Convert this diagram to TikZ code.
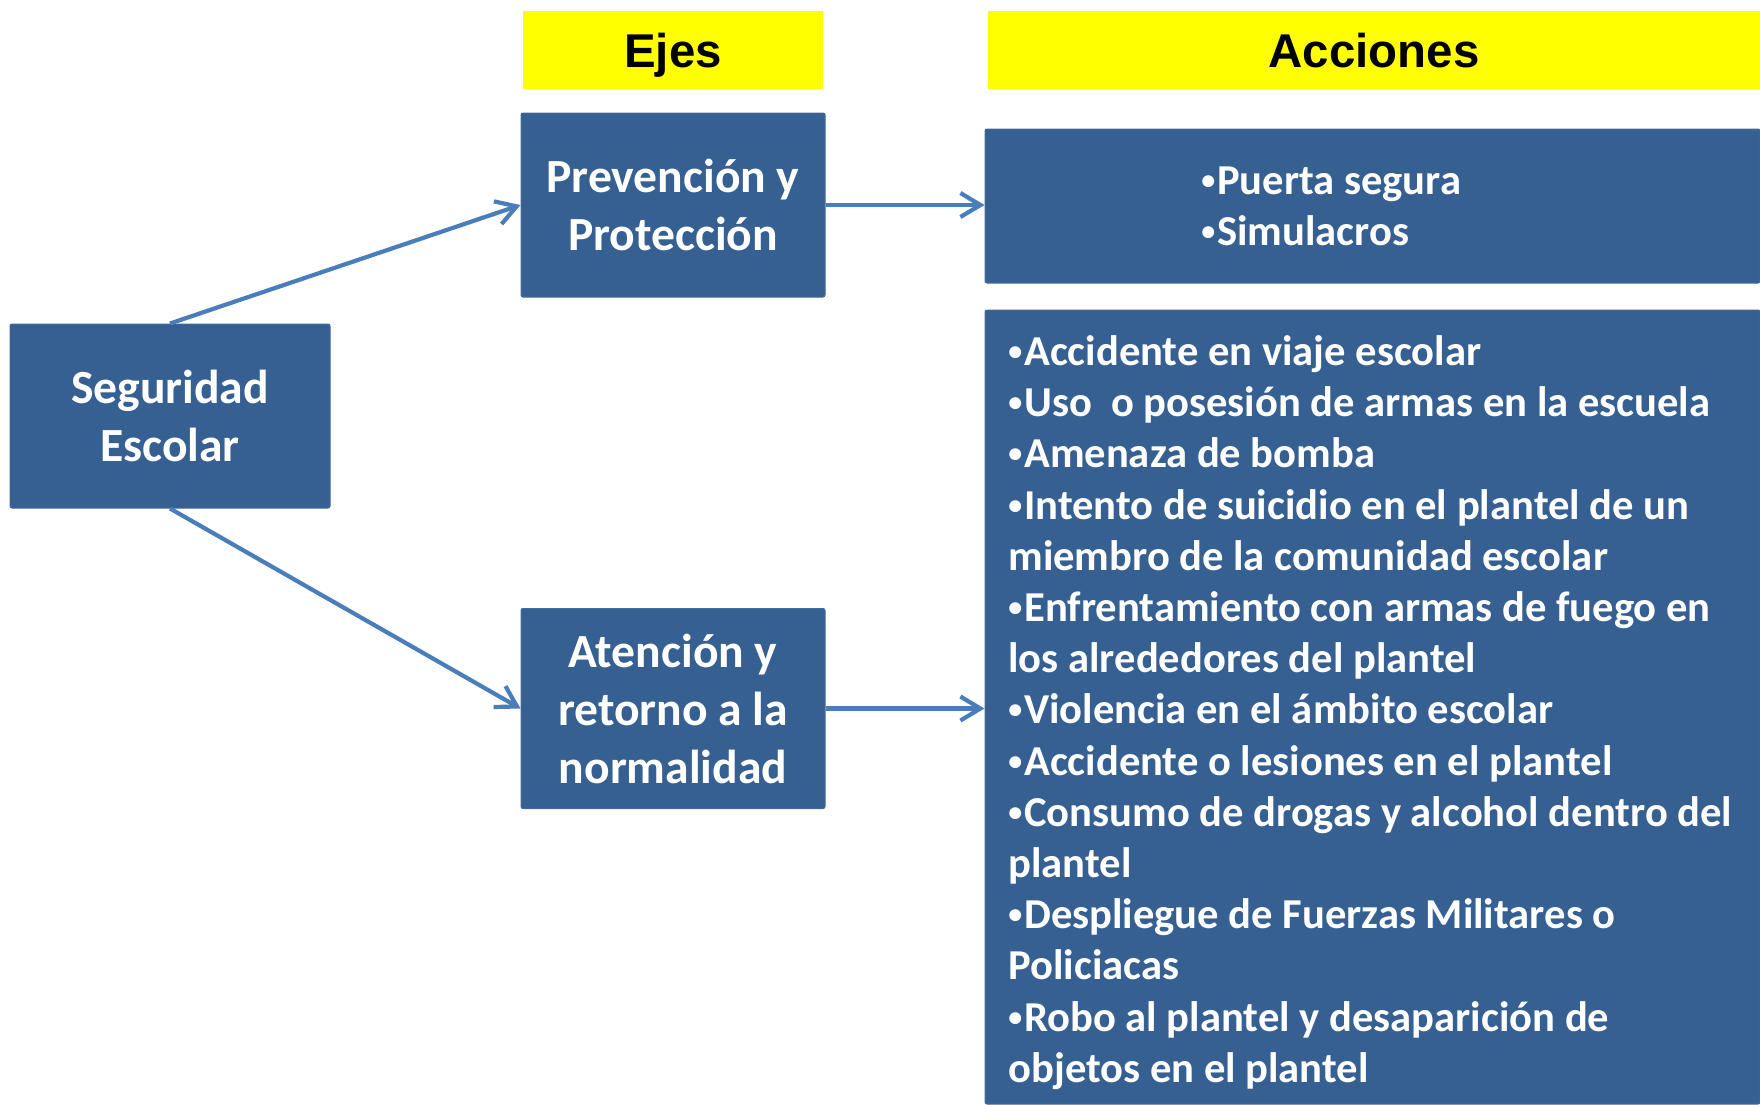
\documentclass[tikz,border=0pt]{standalone}
\usepackage{fontspec}
\setmainfont{Carlito}
\newfontfamily\headfont{Liberation Sans}
\usetikzlibrary{arrows.meta}
\definecolor{boxblue}{HTML}{376092}
\definecolor{boxedge}{HTML}{41699A}
\definecolor{arrowblue}{HTML}{4A7EBB}
\definecolor{hiyellow}{HTML}{FFFF00}
\newcommand\listbul{\makebox[7.9pt][l]{\raisebox{2.5pt}{\fontsize{14}{14}\selectfont •}}}
\tikzset{
  header/.style={fill=hiyellow, inner sep=0pt, text=black, text height=17pt, text depth=0pt,
    font=\headfont\bfseries\fontsize{23.7}{28}\selectfont},
  bluebox/.style={fill=boxblue, draw=boxedge, line width=0.5pt, rounded corners=1pt,
    inner sep=0pt, text=white, align=center,
    font=\bfseries\fontsize{23.8}{29}\selectfont},
  listtext/.style={inner sep=0pt, text=white, align=left, anchor=north west,
    font=\bfseries\fontsize{21.3}{25.6}\selectfont},
  link/.style={draw=arrowblue, line width=2.1pt,
    -{Straight Barb[length=10pt,width=12pt]}},
}
\begin{document}
\begin{tikzpicture}[x=0.5pt,y=-0.5pt]
\useasboundingbox (0,0) rectangle (1760,1104);
% headers
\node[header, minimum width=150pt, minimum height=39pt] (ejes) at (673,50) {Ejes};
\node[header, minimum width=386pt, minimum height=39pt] (acc) at (1374,50) {Acciones};
% boxes
\node[bluebox, minimum width=160pt, minimum height=92pt] (seg) at (170,416) {Seguridad\\Escolar};
\node[bluebox, minimum width=152pt, minimum height=92pt] (prev) at (673,205) {Prevención y\\Protección};
\node[bluebox, minimum width=152pt, minimum height=100pt] (aten) at (673,708.5) {Atención y\\retorno a la\\normalidad};
\node[bluebox, minimum width=387.5pt, minimum height=77pt] (puerta) at (1372.5,206) {};
\node[bluebox, minimum width=387.5pt, minimum height=397pt] (big) at (1372.5,707) {};
% list texts
\node[listtext] (ptxt) at (1201,162) {\rule{0pt}{16pt}\listbul Puerta segura\\\listbul Simulacros};
\node[listtext] (btxt) at (1008,333) {\rule{0pt}{16pt}\listbul Accidente en viaje escolar\\
\listbul Uso\ \ o posesión de armas en la escuela\\
\listbul Amenaza de bomba\\
\listbul Intento de suicidio en el plantel de un\\
miembro de la comunidad escolar\\
\listbul Enfrentamiento con armas de fuego en\\
los alrededores del plantel\\
\listbul Violencia en el ámbito escolar\\
\listbul Accidente o lesiones en el plantel\\
\listbul Consumo de drogas y alcohol dentro del\\
plantel\\
\listbul Despliegue de Fuerzas Militares o\\
Policiacas\\
\listbul Robo al plantel y desaparición de\\
objetos en el plantel};
% connectors
\draw[link] (seg.north) -- (prev.west);
\draw[link] (seg.south) -- (aten.west);
\draw[link] (prev.east) -- (prev.east -| puerta.west);
\draw[link] (aten.east) -- (aten.east -| big.west);
\end{tikzpicture}
\end{document}
